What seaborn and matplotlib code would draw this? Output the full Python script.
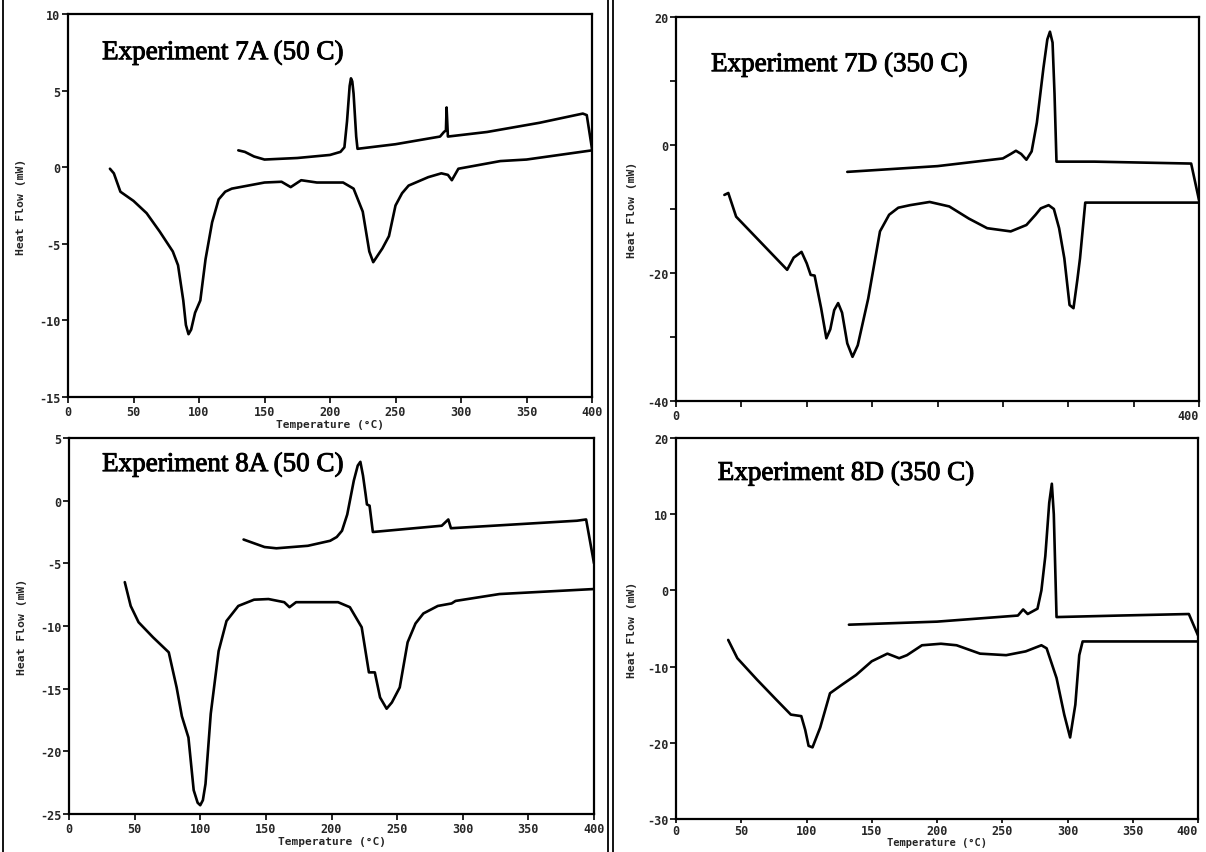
import numpy as np
import matplotlib
matplotlib.use("Agg")
import matplotlib.pyplot as plt
import matplotlib.patheffects as pe
from matplotlib.lines import Line2D
import seaborn as sns

# ---- Experiment 7A (50 C) ----
t7a_up = [130, 135, 142, 150, 175, 200, 208, 211, 213, 215, 216, 217, 218, 220, 221, 250, 284, 287, 288.5, 289, 290,
          320, 360, 393, 396, 400]
h7a_up = [1.1, 1.0, 0.7, 0.5, 0.6, 0.8, 1.0, 1.3, 3.0, 5.3, 5.8, 5.6, 4.8, 2.0, 1.2, 1.5, 2.0, 2.3, 2.4, 3.9, 2.0,
          2.3, 2.9, 3.5, 3.4, 1.2]
t7a_lo = [32, 35, 40, 50, 60, 70, 80, 84, 88, 90, 92, 94, 97, 101, 105, 110, 115, 120, 125, 150, 163, 170, 178, 190,
          210, 218, 225, 230, 233, 240, 245, 250, 255, 260, 275, 285, 290, 293, 298, 330, 350, 400]
h7a_lo = [-0.1, -0.4, -1.6, -2.2, -3.0, -4.2, -5.5, -6.4, -8.7, -10.3, -10.9, -10.6, -9.5, -8.7, -6.0, -3.6, -2.1,
          -1.6, -1.4, -1.0, -0.95, -1.3, -0.85, -1.0, -1.0, -1.4, -2.9, -5.5, -6.2, -5.3, -4.5, -2.5, -1.7, -1.2,
          -0.65, -0.4, -0.5, -0.85, -0.1, 0.4, 0.5, 1.1]

# ---- Experiment 7D (350 C) ----
t7d_up = [131, 200, 250, 256, 260, 264, 268, 272, 276, 281, 284, 286, 288, 289.5, 291, 320, 394, 400]
h7d_up = [-4.2, -3.3, -2.1, -1.4, -0.9, -1.4, -2.3, -1.0, 3.5, 12.0, 16.5, 17.7, 16.0, 8.0, -2.6, -2.6, -2.9, -8.6]
t7d_lo = [37, 40, 46, 85, 90, 96, 100, 103, 106, 111, 115, 118, 121, 124, 127, 131, 135, 139, 147, 156, 163, 170,
          179, 194, 209, 224, 238, 256, 268, 275, 279, 285, 289, 293, 297, 301, 304, 307, 309, 313, 400]
h7d_lo = [-7.8, -7.5, -11.2, -19.5, -17.6, -16.7, -18.5, -20.3, -20.4, -25.5, -30.2, -28.8, -25.8, -24.7, -26.2,
          -31.0, -33.1, -31.3, -24.0, -13.5, -10.9, -9.8, -9.4, -8.9, -9.6, -11.5, -13.0, -13.5, -12.5, -10.9, -9.9,
          -9.4, -10.0, -13.0, -17.7, -25.0, -25.5, -21.0, -17.7, -9.0, -9.0]

# ---- Experiment 8A (50 C) ----
t8a_up = [133, 149, 158, 182, 199, 204, 208, 212, 217, 220, 222, 224, 226, 227, 229, 231.5, 284, 289, 291, 387, 394,
          400]
h8a_up = [-3.1, -3.7, -3.8, -3.6, -3.2, -2.9, -2.4, -1.1, 1.6, 2.8, 3.1, 2.0, 0.5, -0.3, -0.4, -2.5, -2.0, -1.5,
          -2.2, -1.6, -1.5, -5.0]
t8a_lo = [42.5, 47, 53, 64, 76, 82, 86, 91, 95, 98, 100, 102, 104, 108, 114, 120, 129, 141, 152, 164, 168, 173, 182,
          205, 214, 223, 228.5, 233, 237, 242, 246, 252, 258, 264, 270, 281, 291.5, 294.5, 328, 400]
h8a_lo = [-6.5, -8.4, -9.7, -10.9, -12.1, -14.9, -17.2, -18.9, -23.1, -24.1, -24.3, -23.9, -22.6, -17.0, -12.0, -9.6,
          -8.4, -7.9, -7.85, -8.1, -8.5, -8.1, -8.1, -8.1, -8.5, -10.1, -13.7, -13.7, -15.7, -16.6, -16.1, -14.9,
          -11.3, -9.8, -9.0, -8.4, -8.2, -8.0, -7.45, -7.05]

# ---- Experiment 8D (350 C) ----
t8d_up = [132.5, 200, 262, 266, 269.5, 277, 280, 283, 286, 288, 289.5, 291.6, 340, 393, 400]
h8d_up = [-4.5, -4.1, -3.3, -2.5, -3.1, -2.4, 0.0, 4.5, 11.5, 14.0, 10.0, -3.5, -3.3, -3.1, -5.9]
t8d_lo = [40, 47, 62, 76.6, 88, 96, 99, 101.6, 104.6, 110.5, 118, 127, 138, 150, 162, 171, 177, 188.5, 203, 215, 233,
          253, 268, 280, 284, 291.6, 297.5, 302, 306, 309, 311.6, 400]
h8d_lo = [-6.5, -8.9, -11.7, -14.3, -16.3, -16.5, -18.3, -20.4, -20.6, -18.0, -13.5, -12.4, -11.1, -9.3, -8.3, -8.9,
          -8.5, -7.2, -7.0, -7.2, -8.3, -8.5, -8.0, -7.2, -7.6, -11.5, -16.3, -19.3, -15.0, -8.5, -6.7, -6.7]

panels = [
    ("Experiment 7A (50 C)", (t7a_up, h7a_up), (t7a_lo, h7a_lo), (-15, 10), [10, 5, 0, -5, -10, -15]),
    ("Experiment 7D (350 C)", (t7d_up, h7d_up), (t7d_lo, h7d_lo), (-40, 20), [20, 0, -20, -40]),
    ("Experiment 8A (50 C)", (t8a_up, h8a_up), (t8a_lo, h8a_lo), (-25, 5), [5, 0, -5, -10, -15, -20, -25]),
    ("Experiment 8D (350 C)", (t8d_up, h8d_up), (t8d_lo, h8d_lo), (-30, 20), [20, 10, 0, -10, -20, -30]),
]

W, H = 1206, 853
# axes boxes in pixels: left, top, right, bottom
boxes = [(68, 15, 592, 398), (676, 18, 1199, 402), (69, 439, 594, 815), (676, 439, 1198, 820)]
title_pos = [(0.065, 0.882), (0.067, 0.859), (0.063, 0.912), (0.080, 0.890)]

sns.set_theme(style="ticks")
plt.rcParams["axes.unicode_minus"] = False
mono = "DejaVu Sans Mono"

fig = plt.figure(figsize=(W / 100, H / 100), dpi=100, facecolor="white")

for i, (title, up, lo, ylim, yt) in enumerate(panels):
    l, t, r, b = boxes[i]
    ax = fig.add_axes([l / W, 1 - b / H, (r - l) / W, (b - t) / H])
    sns.lineplot(x=up[0], y=up[1], sort=False, estimator=None, color="black", lw=1.9, ax=ax)
    sns.lineplot(x=lo[0], y=lo[1], sort=False, estimator=None, color="black", lw=1.9, ax=ax)
    ax.set_xlim(0, 400)
    ax.set_ylim(*ylim)
    ax.set_xticks(range(0, 401, 50))
    ax.set_yticks(yt)
    if i == 1:
        ax.set_yticks([10, -10, -30], minor=True)
        ax.set_xticklabels(["0"] + [""] * 7 + ["400"])
        ax.set_xlabel("")
    else:
        ax.set_xlabel("Temperature (°C)", fontsize=8 if i != 3 else 7.5, family=mono, fontweight="bold",
                      labelpad=0 if i == 3 else 1)
    ax.set_ylabel("Heat Flow (mW)", fontsize=8.2, family=mono, fontweight="bold",
                  labelpad=9 if i % 2 == 0 else 7)
    for lab in ax.get_xticklabels() + ax.get_yticklabels():
        lab.set_family(mono)
        lab.set_fontweight("bold")
        lab.set_fontsize(8.5)
    if i % 2 == 1:
        # right-hand panels touch the page edge
        ax.get_xticklabels()[-1].set_horizontalalignment("right")
    ax.tick_params(axis="both", which="both", direction="out", length=4, width=1.2, pad=1.5, color="black")
    if i == 3:
        ax.tick_params(axis="x", length=3, pad=0.5)
    for s in ax.spines.values():
        s.set_visible(True)
        s.set_color("black")
        s.set_linewidth(1.6)
    tx, ty = title_pos[i]
    ax.text(tx, ty, title, transform=ax.transAxes, family="Liberation Serif", fontsize=19.5,
            va="baseline", ha="left", color="black",
            path_effects=[pe.withStroke(linewidth=0.7, foreground="black")])

# scanned page borders
for x in (3, 608, 613):
    fig.add_artist(Line2D([x / W, x / W], [0, 1], color="black", lw=1.3))

fig.savefig("out.png", dpi=100, facecolor="white")
